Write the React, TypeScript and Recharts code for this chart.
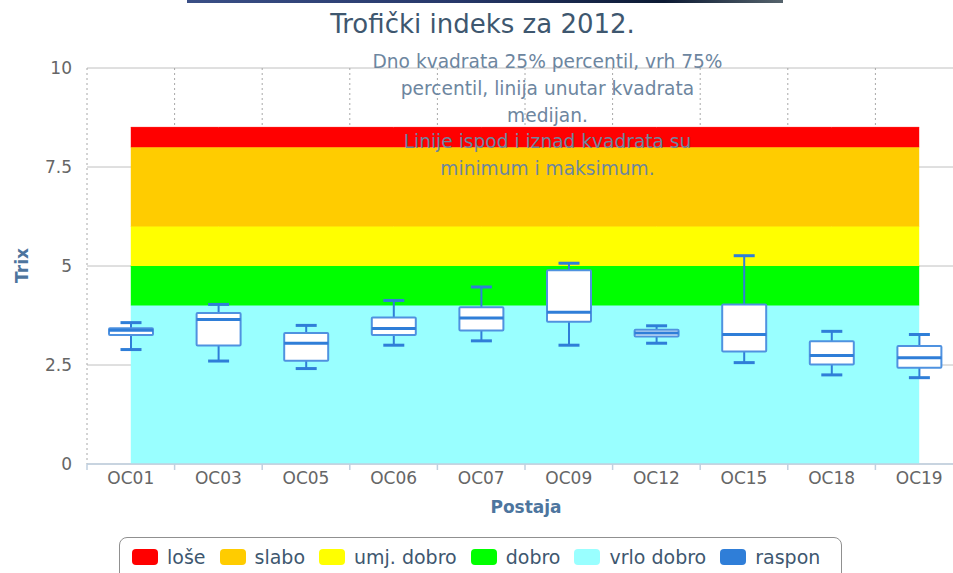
import React from 'react'
import {
  ComposedChart,
  Area,
  Bar,
  XAxis,
  YAxis,
  CartesianGrid,
} from 'recharts'

// stations (x categories)
const categories = ['OC01', 'OC03', 'OC05', 'OC06', 'OC07', 'OC09', 'OC12', 'OC15', 'OC18', 'OC19']

// box plot statistics per station
const minValues = [2.89, 2.6, 2.41, 3.0, 3.11, 3.0, 3.05, 2.56, 2.25, 2.18]
const q1Values = [3.26, 2.99, 2.61, 3.26, 3.37, 3.59, 3.22, 2.84, 2.51, 2.43]
const medianValues = [3.38, 3.65, 3.05, 3.42, 3.69, 3.83, 3.31, 3.27, 2.74, 2.68]
const q3Values = [3.43, 3.81, 3.31, 3.7, 3.96, 4.89, 3.39, 4.03, 3.1, 2.98]
const maxValues = [3.57, 4.03, 3.5, 4.13, 4.47, 5.07, 3.49, 5.26, 3.35, 3.27]

// trophic classes, bottom to top
const bandNames = ['vrlo dobro', 'dobro', 'umj. dobro', 'slabo', 'loše']
const bandTops = [4, 5, 6, 8, 8.5]
const bandColors = ['#99ffff', '#00ff00', '#ffff00', '#ffcc00', '#ff0000']

const yTicks = [0, 2.5, 5, 7.5, 10]

const subtitleLines = [
  'Dno kvadrata 25% percentil, vrh 75%',
  'percentil, linija unutar kvadrata',
  'medijan.',
  'Linije ispod i iznad kvadrata su',
  'minimum i maksimum.',
]

const rangeName = 'raspon'
const rangeColor = '#2f7ed8'

const FONT = '"DejaVu Sans", Verdana, sans-serif'
const PLOT_LEFT = 87
const PLOT_RIGHT = 963
const BAND = (PLOT_RIGHT - PLOT_LEFT) / categories.length

const data = categories.map((station, i) => {
  const row: Record<string, any> = {
    station,
    min: minValues[i],
    q1: q1Values[i],
    median: medianValues[i],
    q3: q3Values[i],
    max: maxValues[i],
  }
  bandTops.forEach((top, j) => {
    row['band' + j] = top - (j > 0 ? bandTops[j - 1] : 0)
  })
  return row
})

function BoxShape(props: any) {
  const { x, y, width, height, payload } = props
  if (!payload) return null
  const top = Math.min(y, y + height)
  const h = Math.abs(height)
  const { min, q1, median, q3, max } = payload
  const py = (v: number) => top + ((max - v) / (max - min)) * h
  const cx = x + width / 2
  const cap = 21
  return (
    <g>
      <line x1={cx} x2={cx} y1={py(max)} y2={py(q3)} stroke={rangeColor} strokeWidth={2} />
      <line x1={cx} x2={cx} y1={py(q1)} y2={py(min)} stroke={rangeColor} strokeWidth={2} />
      <line x1={cx - cap / 2} x2={cx + cap / 2} y1={py(max)} y2={py(max)} stroke={rangeColor} strokeWidth={3} />
      <line x1={cx - cap / 2} x2={cx + cap / 2} y1={py(min)} y2={py(min)} stroke={rangeColor} strokeWidth={3} />
      <rect
        x={x}
        y={py(q3)}
        width={width}
        height={py(q1) - py(q3)}
        fill="#ffffff"
        stroke="#4f92e0"
        strokeWidth={2}
        rx={1}
      />
      <line x1={x} x2={x + width} y1={py(median)} y2={py(median)} stroke={rangeColor} strokeWidth={3} />
    </g>
  )
}

function StationTick(props: any) {
  const { x, y, payload, index } = props
  const last = index === categories.length - 1
  return (
    <g>
      <line x1={x - BAND / 2} x2={x - BAND / 2} y1={y} y2={y + 6} stroke="#c0d0e0" strokeWidth={1.5} />
      {last && <line x1={x + BAND / 2} x2={x + BAND / 2} y1={y} y2={y + 6} stroke="#c0d0e0" strokeWidth={1.5} />}
      <text x={x} y={y + 20} textAnchor="middle" fill="#666666" fontSize={17} fontFamily={FONT}>
        {payload.value}
      </text>
    </g>
  )
}

const legendItems = [
  ...bandNames.map((name, i) => ({ name, color: bandColors[i] })).reverse(),
  { name: rangeName, color: rangeColor },
]

export default function App() {
  return (
    <div
      style={{
        position: 'absolute',
        left: 0,
        top: 0,
        width: 953,
        height: 573,
        overflow: 'hidden',
        background: '#ffffff',
        fontFamily: FONT,
      }}
    >
      <div
        style={{
          position: 'absolute',
          left: 187,
          top: 0,
          width: 596,
          height: 3,
          background: 'linear-gradient(to right, #3a4f86, #27386a 45%, #0c1a33 80%, #55636c)',
        }}
      />
      <ComposedChart
        width={1000}
        height={573}
        data={data}
        margin={{ top: 68, right: 1000 - PLOT_RIGHT, bottom: 69, left: 0 }}
        style={{ position: 'absolute', left: 0, top: 0 }}
      >
        <CartesianGrid vertical={false} stroke="#c0c0c0" />
        <CartesianGrid
          horizontal={false}
          stroke="#a8a8a8"
          strokeDasharray="2 3"
          verticalCoordinatesGenerator={({ offset }: any) =>
            categories.map((_, i) => offset.left + (i * offset.width) / categories.length)
          }
        />
        <XAxis
          dataKey="station"
          height={40}
          tickSize={0}
          tickMargin={0}
          interval={0}
          axisLine={{ stroke: '#c0d0e0', strokeWidth: 1.5 }}
          tick={<StationTick />}
        />
        <YAxis
          width={PLOT_LEFT}
          domain={[0, 10]}
          ticks={yTicks}
          tickSize={0}
          tickMargin={15}
          axisLine={false}
          tick={{ fill: '#666666', fontSize: 17, fontFamily: FONT }}
        />
        {bandNames.map((name, j) => (
          <Area
            key={name}
            name={name}
            type="linear"
            dataKey={'band' + j}
            stackId="bands"
            stroke={bandColors[j]}
            strokeWidth={1}
            fill={bandColors[j]}
            fillOpacity={1}
            isAnimationActive={false}
            dot={false}
            activeDot={false}
          />
        ))}
        <Bar
          name={rangeName}
          dataKey={(d: any) => [d.min, d.max]}
          barSize={44}
          fill={rangeColor}
          shape={<BoxShape />}
          isAnimationActive={false}
        />
      </ComposedChart>
      <svg
        width={953}
        height={573}
        style={{ position: 'absolute', left: 0, top: 0, pointerEvents: 'none' }}
      >
        <text x={482.5} y={33} textAnchor="middle" fontSize={26} fill="#3e576f" fontFamily={FONT}>
          Trofički indeks za 2012.
        </text>
        {subtitleLines.map((line, i) => (
          <text
            key={i}
            x={547.5}
            y={68 + i * 26.8}
            textAnchor="middle"
            fontSize={18.6}
            fill="#6d869f"
            fontFamily={FONT}
          >
            {line}
          </text>
        ))}
        <text
          transform="translate(28, 265.5) rotate(-90)"
          textAnchor="middle"
          fontSize={17}
          fontWeight="bold"
          fill="#4d759e"
          fontFamily={FONT}
        >
          Trix
        </text>
        <text x={526} y={513} textAnchor="middle" fontSize={17} fontWeight="bold" fill="#4d759e" fontFamily={FONT}>
          Postaja
        </text>
      </svg>
      <div
        style={{
          position: 'absolute',
          left: 119,
          top: 537,
          width: 723,
          height: 50,
          boxSizing: 'border-box',
          border: '1.5px solid #909090',
          borderRadius: 8,
        }}
      >
        <div
          style={{
            position: 'absolute',
            left: 12,
            top: 8,
            display: 'flex',
            alignItems: 'center',
            whiteSpace: 'nowrap',
          }}
        >
          {legendItems.map((item) => (
            <div key={item.name} style={{ display: 'flex', alignItems: 'center', marginRight: 14 }}>
              <span
                style={{
                  display: 'inline-block',
                  width: 26,
                  height: 16,
                  borderRadius: 4,
                  background: item.color,
                  marginRight: 9,
                }}
              />
              <span style={{ fontSize: 19, color: '#3e576f', lineHeight: '22px' }}>{item.name}</span>
            </div>
          ))}
        </div>
      </div>
    </div>
  )
}
